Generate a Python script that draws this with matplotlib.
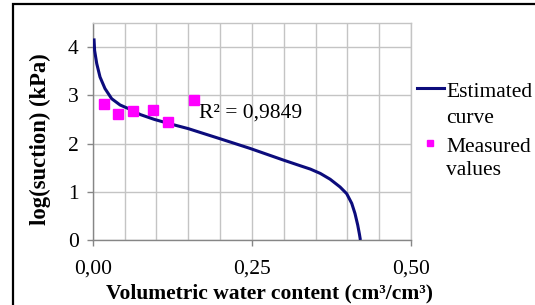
import numpy as np
import matplotlib
matplotlib.use('Agg')
import matplotlib.pyplot as plt
from matplotlib.patches import Rectangle
from matplotlib.lines import Line2D

# estimated retention curve
curve_x = [0.002, 0.003, 0.0063, 0.0115, 0.0193, 0.0298, 0.043, 0.0586, 0.075, 0.097,
           0.124, 0.150, 0.169, 0.200, 0.247, 0.299, 0.326, 0.342, 0.3576, 0.373,
           0.3885, 0.399, 0.4069, 0.412, 0.4163, 0.419, 0.4205]
curve_y = [4.18, 3.93, 3.66, 3.38, 3.14, 2.93, 2.80, 2.71, 2.60, 2.50,
           2.40, 2.31, 2.23, 2.10, 1.90, 1.66, 1.54, 1.47, 1.38, 1.26,
           1.10, 0.96, 0.76, 0.55, 0.31, 0.12, 0.0]

# measured values
meas_x = [0.017, 0.040, 0.064, 0.095, 0.119, 0.159]
meas_y = [2.82, 2.62, 2.67, 2.69, 2.45, 2.90]

x_ticks = [0.0, 0.25, 0.5]
x_ticklabels = ['0,00', '0,25', '0,50']
y_ticks = [0, 1, 2, 3, 4]
r2_text = 'R² = 0,9849'
legend_lines = [('Estimated', 'curve'), ('Measured', 'values')]

plt.rcParams['font.family'] = ['Liberation Serif', 'DejaVu Serif']
fs = 15.5

W, H = 535, 305
fig = plt.figure(figsize=(W / 100, H / 100), dpi=100)
ax = fig.add_axes([92.7 / W, 1 - 240 / H, (411 - 92.7) / W, (240 - 23) / H])

navy = '#0c0c7c'
magenta = '#ff00ff'
grid_c = '#c4c4c4'
axis_c = '#868686'

ax.plot(curve_x, curve_y, color=navy, lw=2.2, solid_capstyle='butt', zorder=3)
ax.plot(meas_x, meas_y, ls='none', marker='s', ms=6.5, color=magenta, mec=magenta, zorder=4)

ax.set_xlim(0, 0.5)
ax.set_ylim(0, 4.5)
ax.set_xticks(x_ticks)
ax.set_xticklabels(x_ticklabels)
ax.set_xticks(np.arange(0.05, 0.5, 0.05), minor=True)
ax.set_yticks(y_ticks)
ax.tick_params(axis='x', which='minor', length=0)
ax.tick_params(which='major', length=4, width=1, color=axis_c, direction='out',
               labelsize=fs, pad=6)
ax.tick_params(axis='x', pad=10)
ax.grid(True, which='both', color=grid_c, lw=1)
ax.set_axisbelow(True)
for s in ['top', 'right']:
    ax.spines[s].set_color(grid_c)
    ax.spines[s].set_linewidth(1)
for s in ['left', 'bottom']:
    ax.spines[s].set_color(axis_c)
    ax.spines[s].set_linewidth(1)

ax.text(0.167, 2.64, r2_text, fontsize=fs, va='center', ha='left')

fig.text(40 / W, 1 - 139 / H, 'log(suction) (kPa)', rotation=90, fontsize=16.3,
         fontweight='bold', ha='center', va='center')
fig.text(270 / W, 1 - 293 / H, 'Volumetric water content (cm³/cm³)', fontsize=fs,
         fontweight='bold', ha='center', va='center')

# legend drawn by hand so the keys sit beside the first line of each label
fig.add_artist(Line2D([416.5 / W, 443.5 / W], [1 - 87.5 / H] * 2, color=navy, lw=2.2,
                      transform=fig.transFigure))
fig.add_artist(Line2D([430 / W], [1 - 143 / H], ls='none', marker='s', ms=5,
                      color=magenta, transform=fig.transFigure))
for (first, second), yc in zip(legend_lines, [(90, 116), (145, 168)]):
    fig.text(446 / W, 1 - (yc[0] + 7) / H, first, fontsize=fs, ha='left', va='baseline')
    fig.text(446 / W, 1 - (yc[1] + 7) / H, second, fontsize=fs, ha='left', va='baseline')

# outer chart frame
fig.add_artist(Rectangle((13 / W, -0.2), 1.2, 1.2 - 4 / H, transform=fig.transFigure,
                         fill=False, ec='black', lw=1.6))

fig.savefig('out.png', dpi=100)
